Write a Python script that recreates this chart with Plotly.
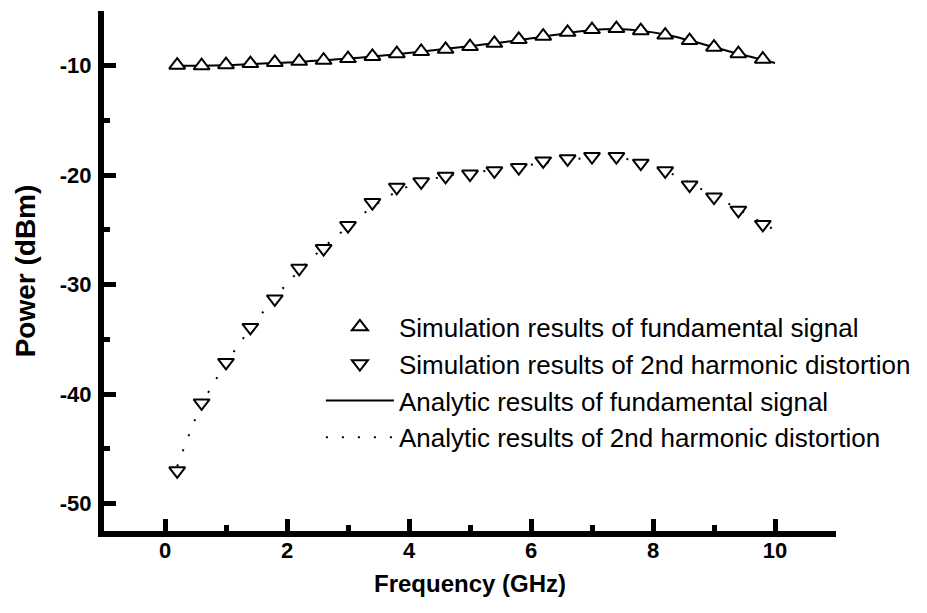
import plotly.graph_objects as go

# Simulated points (GHz)
freq_sim = [0.2, 0.6, 1.0, 1.4, 1.8, 2.2, 2.6, 3.0, 3.4, 3.8, 4.2, 4.6, 5.0,
            5.4, 5.8, 6.2, 6.6, 7.0, 7.4, 7.8, 8.2, 8.6, 9.0, 9.4, 9.8]
fund_sim = [-9.95, -10.0, -9.9, -9.8, -9.7, -9.6, -9.5, -9.35, -9.15, -8.9,
            -8.7, -8.5, -8.25, -7.95, -7.6, -7.3, -6.95, -6.7, -6.6, -6.8,
            -7.2, -7.7, -8.3, -8.9, -9.4]
harm_sim = [-47.0, -40.8, -37.1, -33.9, -31.3, -28.5, -26.7, -24.6, -22.5,
            -21.1, -20.6, -20.1, -19.9, -19.6, -19.3, -18.7, -18.5, -18.3,
            -18.3, -18.9, -19.6, -20.9, -22.0, -23.2, -24.5]

# Analytic curves (GHz)
freq_ana = [0.2, 0.6, 1.0, 1.4, 1.8, 2.2, 2.6, 3.0, 3.4, 3.8, 4.2, 4.6, 5.0,
            5.4, 5.8, 6.2, 6.6, 7.0, 7.4, 7.8, 8.2, 8.6, 9.0, 9.4, 9.8, 10.0]
fund_ana = [-10.0, -10.0, -9.95, -9.85, -9.75, -9.65, -9.5, -9.35, -9.15,
            -8.95, -8.7, -8.45, -8.2, -7.95, -7.65, -7.35, -7.0, -6.75,
            -6.65, -6.8, -7.15, -7.7, -8.3, -8.9, -9.45, -9.75]
harm_ana = [-46.6, -41.0, -37.2, -34.0, -31.2, -28.7, -26.6, -24.7, -22.9,
            -21.5, -20.6, -20.1, -19.8, -19.5, -19.2, -18.9, -18.6, -18.4,
            -18.4, -18.8, -19.6, -20.7, -21.9, -23.1, -24.4, -25.0]

x_ticks = [0, 2, 4, 6, 8, 10]
x_labels = ["0", "2", "4", "6", "8", "10"]
y_ticks = [-50, -40, -30, -20, -10]
y_labels = ["-50", "-40", "-30", "-20", "-10"]

names = [
    "Simulation results of fundamental signal",
    "Simulation results of 2nd harmonic distortion",
    "Analytic results of fundamental signal",
    "Analytic results of 2nd harmonic distortion",
]

BOLD = dict(family="Liberation Sans, Arial, sans-serif", color="black", weight="bold")

fig = go.Figure()

fig.add_trace(go.Scatter(
    x=freq_ana, y=fund_ana, mode="lines", name=names[2], legendrank=3,
    line=dict(color="black", width=2, shape="spline"),
))
fig.add_trace(go.Scatter(
    x=freq_ana, y=harm_ana, mode="lines", name=names[3], legendrank=4,
    line=dict(color="black", width=2, dash="2px,14px", shape="spline"),
))
fig.add_trace(go.Scatter(
    x=freq_sim, y=fund_sim, mode="markers", name=names[0], legendrank=1,
    marker=dict(symbol="triangle-up", size=14, color="white",
                line=dict(color="black", width=2)),
))
fig.add_trace(go.Scatter(
    x=freq_sim, y=harm_sim, mode="markers", name=names[1], legendrank=2,
    marker=dict(symbol="triangle-down", size=14, color="white",
                line=dict(color="black", width=2)),
))

fig.update_layout(
    width=927, height=613,
    margin=dict(l=104, r=86, t=11, b=82),
    paper_bgcolor="white", plot_bgcolor="white",
    showlegend=True,
    legend=dict(
        x=0.2963, y=0.4376, xanchor="left", yanchor="top",
        bgcolor="rgba(0,0,0,0)", borderwidth=0,
        itemwidth=68, itemsizing="trace",
        font=dict(family="Liberation Sans, Arial, sans-serif", size=26, color="black"),
    ),
    xaxis=dict(
        range=[-1, 11], tickvals=x_ticks, ticktext=x_labels,
        showline=True, linewidth=6, linecolor="black", mirror=False,
        showgrid=False, zeroline=False,
        ticks="inside", ticklen=12, tickwidth=5, tickcolor="black",
        minor=dict(ticks="inside", ticklen=6, tickwidth=5, tickcolor="black",
                   tick0=1, dtick=1),
        tickfont=dict(size=22, **BOLD), ticklabelstandoff=-5,
        title=dict(text="Frequency (GHz)", font=dict(size=24, **BOLD), standoff=15),
    ),
    yaxis=dict(
        range=[-52.5, -5], tickvals=y_ticks, ticktext=y_labels,
        showline=True, linewidth=6, linecolor="black", mirror=False,
        showgrid=False, zeroline=False,
        ticks="inside", ticklen=12, tickwidth=5, tickcolor="black",
        minor=dict(ticks="inside", ticklen=6, tickwidth=5, tickcolor="black",
                   tick0=-5, dtick=5),
        tickfont=dict(size=22, **BOLD), ticklabelstandoff=2,
        title=dict(text="Power (dBm)", font=dict(size=28, **BOLD), standoff=18),
    ),
)

fig.write_html("out.html")
